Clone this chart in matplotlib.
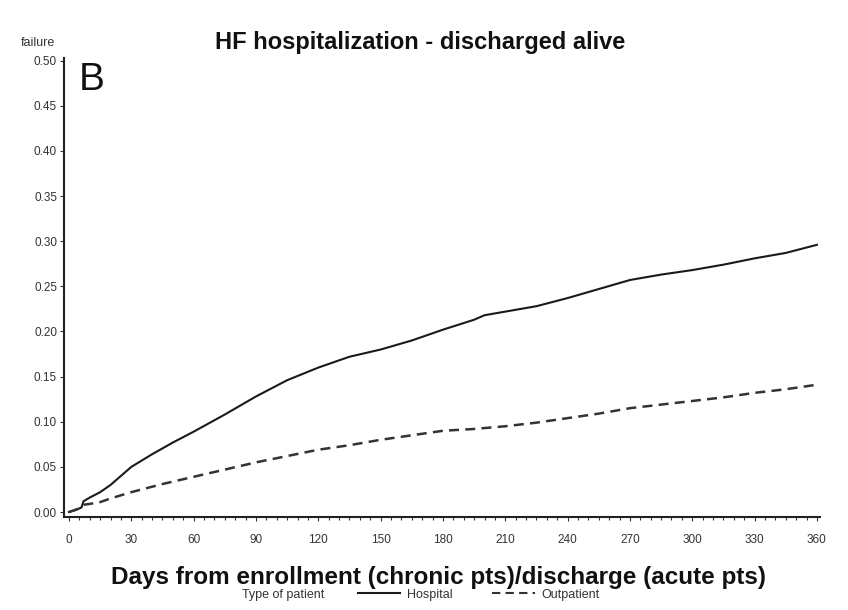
import matplotlib
matplotlib.use("Agg")
import matplotlib.pyplot as plt
from matplotlib.ticker import MultipleLocator, FormatStrFormatter
from matplotlib.lines import Line2D
from matplotlib.offsetbox import HPacker

plt.rcParams['font.family'] = ['Liberation Sans', 'DejaVu Sans']

hosp_days = [0, 3, 6, 7, 10, 15, 20, 25, 30, 40, 50, 60, 75, 90, 105, 120, 135, 150,
             165, 180, 195, 200, 210, 225, 240, 255, 270, 285, 300, 315, 330, 345, 360]
hosp_vals = [0, 0.002, 0.005, 0.012, 0.016, 0.022, 0.030, 0.040, 0.050, 0.064, 0.077,
             0.089, 0.108, 0.128, 0.146, 0.160, 0.172, 0.180, 0.190, 0.202, 0.213, 0.218,
             0.222, 0.228, 0.237, 0.247, 0.257, 0.263, 0.268, 0.274, 0.281, 0.287, 0.296]

out_days = [0, 5, 7, 10, 15, 20, 30, 45, 60, 75, 90, 105, 120, 135, 150, 165, 180, 195,
            210, 225, 240, 255, 270, 285, 300, 315, 330, 345, 360]
out_vals = [0, 0.004, 0.008, 0.009, 0.011, 0.015, 0.022, 0.031, 0.039, 0.047, 0.055, 0.062,
            0.069, 0.074, 0.080, 0.085, 0.090, 0.092, 0.095, 0.099, 0.104, 0.109, 0.115,
            0.119, 0.123, 0.127, 0.132, 0.136, 0.141]

x_ticks = list(range(0, 361, 30))
y_ticks = [0.00, 0.05, 0.10, 0.15, 0.20, 0.25, 0.30, 0.35, 0.40, 0.45, 0.50]

fig = plt.figure(figsize=(8.48, 6.10), dpi=100)
ax = fig.add_axes([0.0755, 0.1525, 0.8915, 0.7525])

ax.plot(hosp_days, hosp_vals, color='#1a1a1a', lw=1.5, solid_joinstyle='round')
ax.plot(out_days, out_vals, color='#333333', lw=1.8, linestyle=(0, (4, 2.5)))

ax.set_xlim(-2.4, 361.5)
ax.set_ylim(-0.0055, 0.503)
ax.set_xticks(x_ticks)
ax.set_yticks(y_ticks)
ax.yaxis.set_major_formatter(FormatStrFormatter('%.2f'))
ax.xaxis.set_minor_locator(MultipleLocator(5))

for s in ['top', 'right']:
    ax.spines[s].set_visible(False)
for s in ['left', 'bottom']:
    ax.spines[s].set_linewidth(1.5)
    ax.spines[s].set_color('#222222')

ax.tick_params(axis='both', which='major', labelsize=8.5, colors='#333333', length=3, width=0.8)
ax.tick_params(axis='x', which='minor', length=2, width=0.8, color='#333333')
ax.tick_params(axis='x', pad=9)
ax.tick_params(axis='y', pad=2)

fig.text(0.495, 0.930, 'HF hospitalization - discharged alive', ha='center', va='center',
         fontsize=17, fontweight='bold', color='#111111')
fig.text(0.024, 0.929, 'failure', ha='left', va='center', fontsize=9, color='#333333')
ax.text(0.020, 0.992, 'B', transform=ax.transAxes, ha='left', va='top', fontsize=28,
        color='#111111')

fig.text(0.517, 0.053, 'Days from enrollment (chronic pts)/discharge (acute pts)',
         ha='center', va='center', fontsize=17.5, fontweight='bold', color='#111111')

handles = [Line2D([], [], color='#1a1a1a', lw=1.5),
           Line2D([], [], color='#333333', lw=1.5, linestyle=(0, (4, 2.5)))]
leg = fig.legend(handles, ['Hospital', 'Outpatient'], loc='center', bbox_to_anchor=(0.496, 0.025),
                 ncol=2, frameon=False, fontsize=9, handlelength=3.4, handletextpad=0.5,
                 columnspacing=3.2, title='Type of patient', title_fontsize=9,
                 borderpad=0, borderaxespad=0)
title_box = leg._legend_title_box
leg._legend_box._children = [HPacker(children=[title_box, leg._legend_handle_box],
                                     pad=0, sep=24, align='center')]
for t in leg.get_texts():
    t.set_color('#333333')
leg.get_title().set_color('#333333')

fig.savefig('out.png', dpi=100, facecolor='white')
